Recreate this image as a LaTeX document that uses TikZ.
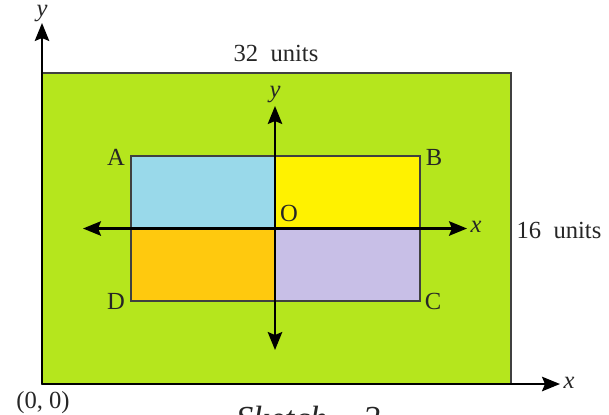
\documentclass[tikz,border=0pt]{standalone}
\usepackage{fontspec}
\setmainfont{Liberation Serif}
\usepackage{tikz}
\usetikzlibrary{arrows.meta,positioning}
\definecolor{fieldG}{RGB}{181,230,29}
\definecolor{quadB}{RGB}{153,217,234}
\definecolor{quadY}{RGB}{255,242,0}
\definecolor{quadO}{RGB}{255,201,14}
\definecolor{quadL}{RGB}{200,191,231}
\colorlet{inkD}{black!85}
\tikzset{
  tipA/.tip={Stealth[length=3.6mm,width=2.9mm,inset=0.6mm]},
  axisline/.style={line width=1.2pt, draw=black},
  edgeline/.style={line width=1.2pt, draw=black!75},
  lbl/.style={text=inkD, inner sep=0pt}
}

\begin{document}
\begin{tikzpicture}[x=0.02cm,y=-0.02cm,font=\fontsize{14}{17}\selectfont]
        \useasboundingbox (0,0) rectangle (609,414);
        % Outer field
        \coordinate (P0) at (42,384);
        \coordinate (P1) at (511,73);
        \fill[fieldG] (P0) rectangle (P1);
        \draw[edgeline] (P0) rectangle (P1);
        % Inner rectangle ABCD and its quarters
        \coordinate (A) at (131,156);
        \coordinate (B) at (420,156);
        \coordinate (C) at (420,301);
        \coordinate (D) at (131,301);
        \coordinate (O) at (275,228.5);
        \fill[quadB] (A) rectangle (O);
        \fill[quadY] (B) rectangle (O);
        \fill[quadL] (C) rectangle (O);
        \fill[quadO] (D) rectangle (O);
        \draw[edgeline] (A) rectangle (C);
        % Inner axes through O
        \coordinate (xL) at (83,228.5);
        \coordinate (xR) at (467,228.5);
        \coordinate (yT) at (275,106);
        \coordinate (yB) at (275,350);
        \draw[axisline, {tipA}-{tipA}] (xL) -- (xR);
        \draw[axisline, {tipA}-{tipA}] (yB) -- (yT);
        % Outer axes
        \coordinate (xEnd) at (560,384);
        \coordinate (yEnd) at (42,23);
        \draw[axisline, -{tipA}] (P0) -- (xEnd);
        \draw[axisline, -{tipA}] (P0) -- (yEnd);
        % Labels
        \node[lbl] (labA) at (116,157) {A};
        \node[lbl] (labB) at (434,157) {B};
        \node[lbl] (labC) at (433,301) {C};
        \node[lbl] (labD) at (116,301) {D};
        \node[lbl] (labO) at (289,213) {O};
        \node[lbl] (labx) at (476,227) {\textit{x}};
        \node[lbl] (laby) at (275,95) {\textit{y}};
        \node[lbl] (labX) at (569,383) {\textit{x}};
        \node[lbl] (labY) at (42,14) {\textit{y}};
        \node[lbl] (origin) at (43,403) {(0,\ 0)};
        \node[lbl] (wide) at (276,53) {32\ \ units};
        \node[lbl] (high) at (559,230) {16\ \ units};
        \node[lbl, anchor=north, font=\fontsize{20}{24}\selectfont] (caption) at (308,406) {\textit{Sketch -- 2}};
\end{tikzpicture}
\end{document}
